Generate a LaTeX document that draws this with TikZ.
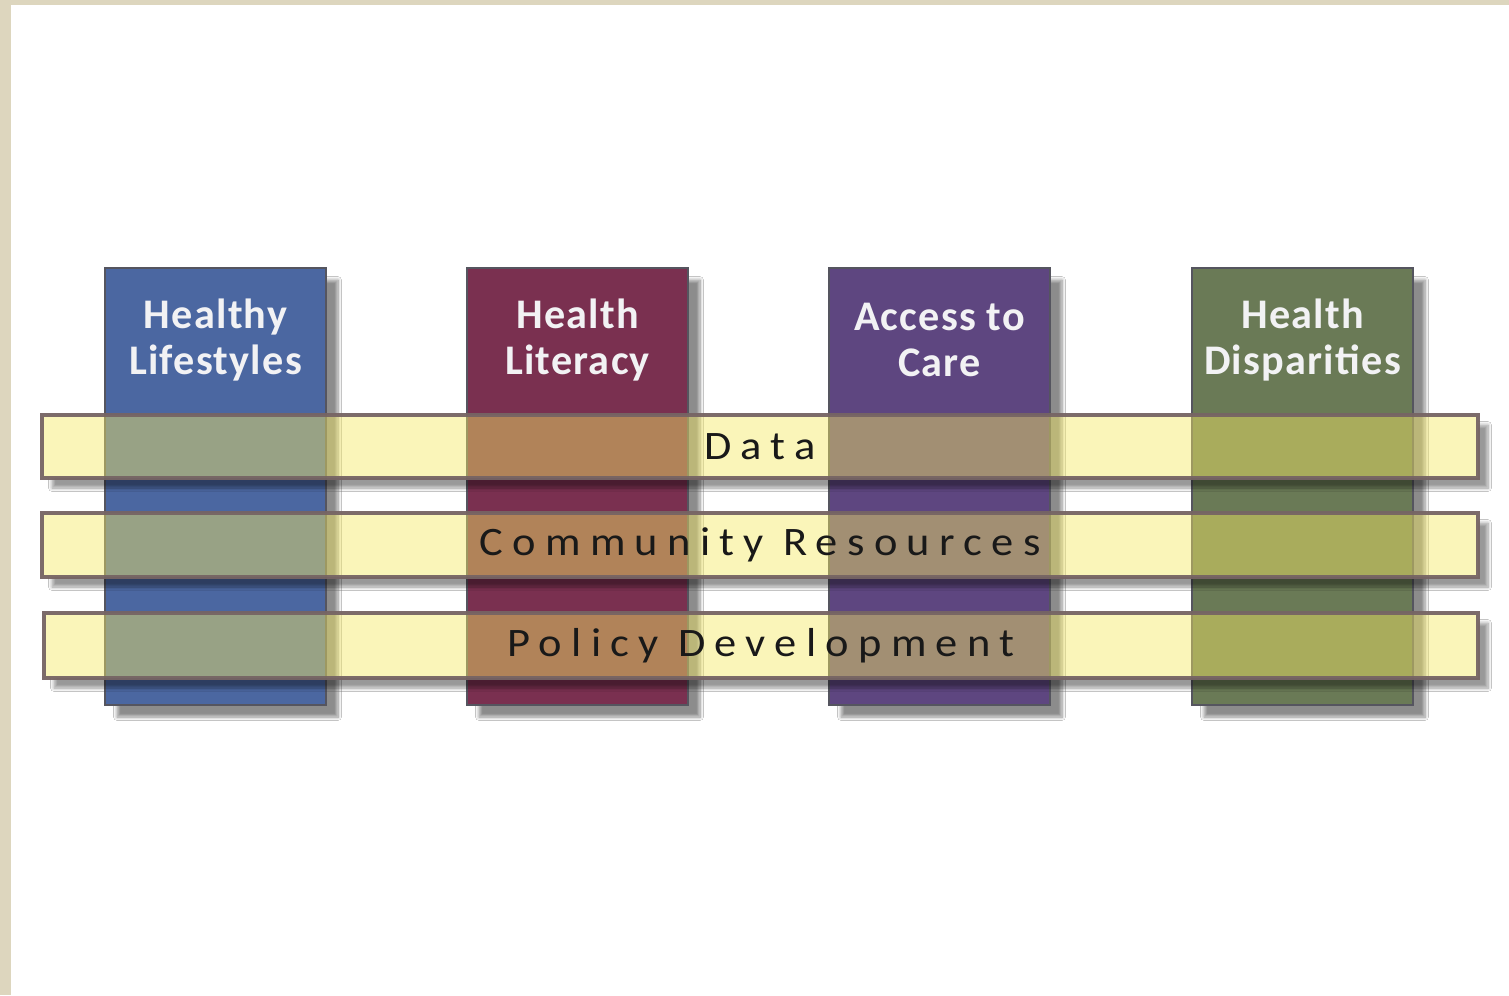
\documentclass[tikz,border=0pt]{standalone}
\usepackage{fontspec}
\setmainfont{Carlito}
\newfontfamily\towerfont[LetterSpace=3]{Carlito}
\newfontfamily\bandfont[LetterSpace=23,FakeStretch=1.1]{Carlito}
\usetikzlibrary{shadows.blur,fit}
\definecolor{framebeige}{HTML}{DDD6BE}
\definecolor{lifeblue}{HTML}{4B67A1}
\definecolor{litmaroon}{HTML}{7A3050}
\definecolor{carepurple}{HTML}{5E4680}
\definecolor{dispgreen}{HTML}{6A7A56}
\definecolor{toweredge}{HTML}{55555F}
\definecolor{towerink}{HTML}{F2F2F4}
\definecolor{bandfill}{HTML}{F6EA64}
\definecolor{bandedge}{HTML}{766464}

\begin{document}
\begin{tikzpicture}[x=0.2mm,y=-0.2mm,
  tower/.style={draw=toweredge,line width=1.3pt,inner sep=0pt,
    minimum width=4.42cm,minimum height=8.74cm,
    blur shadow={shadow xshift=0.24cm,shadow yshift=-0.24cm,
      shadow blur steps=8,shadow opacity=45}},
  towertext/.style={text=towerink,align=center,
    font=\towerfont\bfseries\fontsize{24}{26.7}\selectfont},
  band/.style={draw=bandedge,line width=2pt,inner sep=0pt,
    fill=bandfill,fill opacity=0.45,draw opacity=0.95},
  bandtext/.style={text=black!90,inner sep=0pt,
    font=\bandfont\fontsize{23}{25}\selectfont},
  bandshade/.style={blur shadow={shadow xshift=0.2cm,shadow yshift=-0.2cm,
      shadow blur steps=8,shadow opacity=40}}]
\useasboundingbox (0,0) rectangle (1509,995);
\fill[framebeige] (0,0) rectangle (1509,995);
\fill[white] (11,5) rectangle (1509,995);
% #1 name, #2 x, #3 colour, #4 title
\newcommand\tower[4]{
\node[tower,fill=#3] (#1) at (#2,486.5) {};
\node[towertext] (#1-title) at (#2,340) {#4};
}
\tower{lifestyles}{215.5}{lifeblue}{Healthy\\Lifestyles}
\tower{literacy}{577.5}{litmaroon}{Health\\Literacy}
\tower{access}{939.5}{carepurple}{Access to\\Care}
\tower{disparities}{1302.5}{dispgreen}{Health\\Disparities}
% band corners
\coordinate (data-nw) at (42,415);
\coordinate (data-se) at (1478,478);
\coordinate (community-nw) at (42,513);
\coordinate (community-se) at (1478,577);
\coordinate (policy-nw) at (44,613);
\coordinate (policy-se) at (1478,678);
% shadows only outside the bands
\begin{scope}[even odd rule]
\clip (0,0) rectangle (1509,995)
  (data-nw) rectangle (data-se)
  (community-nw) rectangle (community-se)
  (policy-nw) rectangle (policy-se);
\foreach \b in {data,community,policy}
  \path[bandshade] (\b-nw) rectangle (\b-se);
\end{scope}
% the three crossing bands
\node[band,fit=(data-nw)(data-se),label={[bandtext]center:Data}] (data) {};
\node[band,fit=(community-nw)(community-se),
  label={[bandtext]center:Community Resources}] (community) {};
\node[band,fit=(policy-nw)(policy-se),
  label={[bandtext]center:Policy Development}] (policy) {};
\end{tikzpicture}
\end{document}
